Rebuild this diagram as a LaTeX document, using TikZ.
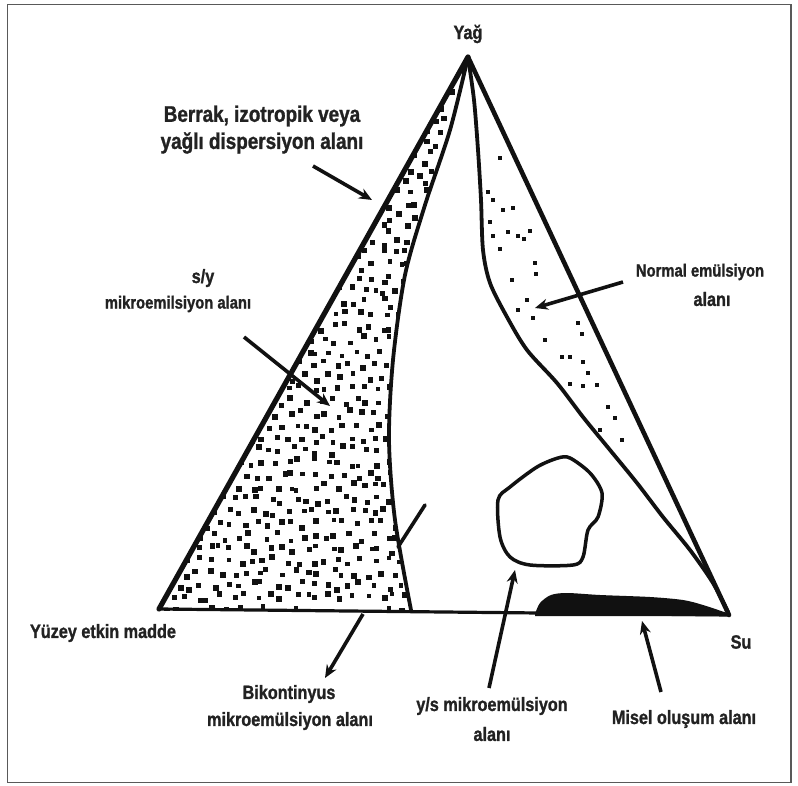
\documentclass[tikz,border=0pt]{standalone}
\usepackage{fontspec}
\setmainfont{Liberation Sans}[FakeStretch=0.84, BoldFeatures={FakeBold=1.2}]
\usetikzlibrary{arrows.meta}
\newcommand\labfont{\fontsize{19.3}{24}\selectfont\bfseries}
\newcommand\biglabfont{\fontsize{22.5}{27}\selectfont\bfseries}
\newcommand\smalllabfont{\fontsize{17.6}{22}\selectfont\bfseries}
\definecolor{ink}{HTML}{111111}
\definecolor{txt}{HTML}{222222}
\tikzset{
  lab/.style={font=\labfont, text=txt, inner sep=0pt, anchor=center},
  biglab/.style={lab, font=\biglabfont},
  smalllab/.style={lab, font=\smalllabfont},
  side/.style={draw=ink, line width=5.2pt, line cap=round, line join=round},
  curve/.style={draw=ink, line width=3.8pt, line cap=round, line join=round},
  arr/.style={draw=ink, line width=3.6pt, -{Stealth[length=13pt,width=11pt]}},
  stub/.style={draw=ink, line width=3.6pt, line cap=round},
  dotc/.style={fill=ink}
}
\begin{document}
\begin{tikzpicture}[x=1pt,y=-1pt]
\useasboundingbox (0,0) rectangle (798,786);
\fill[white] (0,0) rectangle (798,786);
\draw[black!65, line width=1.5pt] (7.5,4.5) rectangle (791,782.5);

% vertices
\coordinate (O) at (468,57);
\coordinate (S) at (159,609);
\coordinate (W) at (729,615);

% dense dots in s/y region
\begin{scope}
\clip (159,611) -- plot[smooth] coordinates {(468,57) (450,130) (425,205) (405,275) (393,360) (389,440) (395,520) (411,610)} -- cycle;
\pgfmathsetseed{12}
\foreach \j in {0,...,45}{
  \foreach \i in {0,...,25}{
    \pgfmathsetmacro\px{159+\i*12.3+mod(\j,2)*6.1+rand*4.5}
    \pgfmathsetmacro\py{57+\j*12.3+rand*4.5}
    \pgfmathsetmacro\ds{2.2+0.8*rnd}
    \fill[dotc] ({\px-\ds},{\py-\ds}) rectangle ({\px+\ds},{\py+\ds});
  }
}
\end{scope}

% sparse dots in normal emulsion region
\foreach \p in {(500,158),(488,192),(493,200),(503,210),(513,208),(490,222),(508,232),(518,236),(524,239),(530,231),(493,236),(500,249),(535,263),(536,274),(527,300),(533,318),(518,310),(578,323),(582,334),(562,357),(570,357),(583,362),(588,373),(570,384),(583,386),(597,385),(608,407),(615,418),(600,430),(622,440),(545,340),(512,280)}
  \fill[dotc] \p ++(-1.7,-1.7) rectangle ++(3.4,3.4);

% triangle sides
\draw[side] (S) -- (O);
\draw[side, line width=4.6pt] (O) -- (W);
\draw[side, line width=3.2pt] (S) -- (W);

% inner boundaries
\draw[curve] plot[smooth] coordinates {(468,57) (450,130) (425,205) (405,275) (393,360) (389,440) (395,520) (411,610)};
\draw[curve] plot[smooth] coordinates {(468,57) (474,100) (478,150) (481,200) (483,250) (490,283) (507,317) (527,350) (557,383) (583,417) (610,450) (637,483) (663,517) (690,550) (713,583) (728,612)};

% y/s microemulsion blob
\draw[curve, line width=3.5pt] plot[smooth cycle] coordinates {(570,458) (590,473) (602,493) (598,517) (588,530) (583,557) (573,565) (530,565) (510,557) (500,537) (498,500) (510,487) (537,467) (558,458)};

% micelle region
\fill[ink] plot[smooth] coordinates {(535,614) (540,603) (551,595) (567,593) (600,595) (650,597) (683,600) (703,605) (727,613)} -- (727,616) -- (535,616) -- cycle;

% labels
\node[lab] (yag) at (468,34) {Yağ};
\node[biglab] (ber1) at (262,116) {Berrak, izotropik veya};
\node[biglab] (ber2) at (262,143) {yağlı dispersiyon alanı};
\node[lab] (sy1) at (203,278) {s/y};
\node[smalllab] (sy2) at (178,304) {mikroemilsiyon alanı};
\node[smalllab] (ne1) at (700,272) {Normal emülsiyon};
\node[lab] (ne2) at (712,299) {alanı};
\node[lab] (yuz) at (103,633) {Yüzey etkin madde};
\node[lab] (su) at (741,642) {Su};
\node[lab] (bk1) at (289,694) {Bikontinyus};
\node[lab] (bk2) at (290,721) {mikroemülsiyon alanı};
\node[lab] (ys1) at (492,706) {y/s mikroemülsiyon};
\node[lab] (ys2) at (492,734) {alanı};
\node[lab] (mis) at (684,719) {Misel oluşum alanı};

% arrows
\coordinate (b1) at (313,166); \coordinate (b2) at (372,200);
\draw[arr] (b1) -- (b2);
\coordinate (s1) at (244,337); \coordinate (s2) at (330,406);
\draw[arr] (s1) -- (s2);
\coordinate (n1) at (623,282); \coordinate (n2) at (535,308);
\draw[arr] (n1) -- (n2);
\coordinate (k0) at (425,505); \coordinate (k1) at (398,547);
\draw[stub] (k0) -- (k1);
\coordinate (k2) at (363,614); \coordinate (k3) at (325,678);
\draw[arr] (k2) -- (k3);
\coordinate (y1) at (489,688); \coordinate (y2) at (515,570);
\draw[arr] (y1) -- (y2);
\coordinate (m1) at (661,692); \coordinate (m2) at (642,621);
\draw[arr] (m1) -- (m2);
\end{tikzpicture}
\end{document}
